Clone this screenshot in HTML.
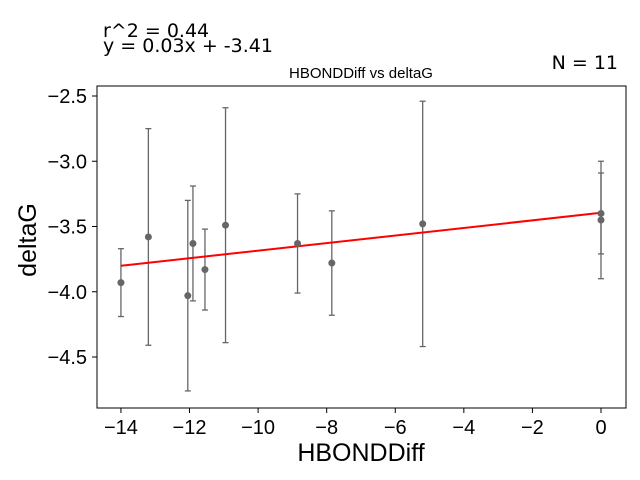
<!DOCTYPE html>
<html><head><meta charset="utf-8"><style>body{margin:0;background:#fff}svg{display:block;font-family:"Liberation Sans",sans-serif}</style></head>
<body>
<svg id="c" width="640" height="480">
<text x="103" y="37" font-size="19" font-family="DejaVu Sans, sans-serif">r^2 = 0.44</text>
<text x="103" y="52" font-size="19" font-family="DejaVu Sans, sans-serif">y = 0.03x + -3.41</text>
<text x="618" y="69" font-size="19" font-family="DejaVu Sans, sans-serif" text-anchor="end">N = 11</text>
<text x="361" y="78" font-size="15" text-anchor="middle">HBONDDiff vs deltaG</text>
<text x="361" y="461" font-size="25" text-anchor="middle">HBONDDiff</text>
<text x="0" y="0" font-size="25" text-anchor="middle" transform="translate(36,240) rotate(-90)">deltaG</text>
<g id="ax"></g>
<rect x="97" y="86" width="529" height="322" fill="none" stroke="#000" stroke-width="1"/>
</svg>
<script>
const xVals=[-14,-13.2,-12.05,-11.9,-11.55,-10.95,-8.85,-7.85,-5.2,0,0];
const yVals=[-3.93,-3.58,-4.03,-3.63,-3.83,-3.49,-3.63,-3.78,-3.48,-3.40,-3.45];
const errVals=[0.26,0.83,0.73,0.44,0.31,0.90,0.38,0.40,0.94,0.31,0.45];
const xTicks=[-14,-12,-10,-8,-6,-4,-2,0];
const yTicks=[-2.5,-3.0,-3.5,-4.0,-4.5];
const slope=0.029, intercept=-3.395;
const px=x=>601+x*34.29;
const py=y=>96+(-2.5-y)*130.5;
const NS="http://www.w3.org/2000/svg";
const g=document.getElementById('ax');
function mk(t,a){const e=document.createElementNS(NS,t);for(const k in a)e.setAttribute(k,a[k]);g.appendChild(e);return e;}
xTicks.forEach(v=>{
 const l=mk('line',{x1:px(v),x2:px(v),y1:408,y2:413,stroke:'#000'});
 
 
 const t=mk('text',{x:px(v),y:434,'font-size':20,'text-anchor':'middle'});
 t.textContent=v<0?'\u2212'+Math.abs(v):String(v);
 
 
});
yTicks.forEach(v=>{
 const l=mk('line',{x1:92,x2:97,y1:py(v),y2:py(v),stroke:'#000'});
 
 
 const t=mk('text',{x:87,y:py(v)+7,'font-size':20,'text-anchor':'end'});
 t.textContent='\u2212'+Math.abs(v).toFixed(1);
 
 
});
xVals.forEach((x,i)=>{
 const y=yVals[i],e=errVals[i],cx=px(x);
 const b=mk('line',{x1:cx,x2:cx,y1:py(y+e),y2:py(y-e),stroke:'#666','stroke-width':1.3});
 
 
 [y+e,y-e].forEach(v=>{const c=mk('line',{x1:cx-3,x2:cx+3,y1:py(v),y2:py(v),stroke:'#666','stroke-width':1.3});
 
 });
});
const fl=mk('line',{x1:px(-14),y1:py(slope*-14+intercept),x2:px(0),y2:py(intercept),stroke:'#f00','stroke-width':2});


xVals.forEach((x,i)=>{
 const p=mk('circle',{cx:px(x),cy:py(yVals[i]),r:3.5,fill:'#666'});
 
 
});
</script>
</body></html>
